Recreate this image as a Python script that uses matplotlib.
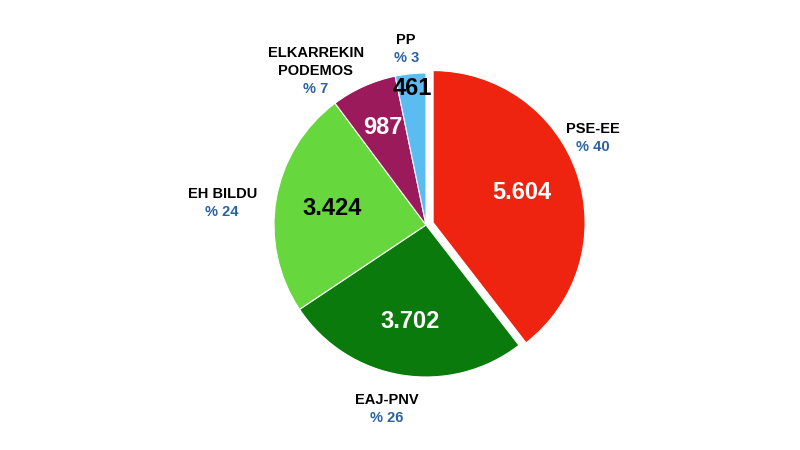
import numpy as np
import matplotlib.pyplot as plt

plt.rcParams['font.family'] = ['Liberation Sans', 'DejaVu Sans']

# votos por partido
partidos = ['PSE-EE', 'EAJ-PNV', 'EH BILDU', 'ELKARREKIN\nPODEMOS', 'PP']
votos = [5604, 3702, 3424, 987, 461]
porcentajes = [40, 26, 24, 7, 3]
etiquetas_votos = ['5.604', '3.702', '3.424', '987', '461']
colores = ['#ee2410', '#0b7a0c', '#66d83e', '#9b1a5c', '#5bbcf2']
color_texto_voto = ['white', 'white', 'black', 'white', 'black']
# distancia radial de los textos (fraccion del radio)
dist_voto = [0.62, 0.64, 0.63, 0.70, 0.90]
dist_nombre = [1.245, 1.225, 1.35, 1.253, 1.175]
ajuste_angulo = [9.2, -2.8, 3.1, 11.1, 0.5]

fig = plt.figure(figsize=(8, 4.5), dpi=100)
ax = fig.add_axes([0, 0, 1, 1])

cx, cy, r = 426, 225, 152
wedges, _ = ax.pie(votos, colors=colores, startangle=90, counterclock=False,
                   center=(cx, cy), radius=r, explode=[7.5, 0, 0, 0, 0],
                   wedgeprops=dict(edgecolor='white', linewidth=0.8))
# pie cambia los limites, se ponen despues
ax.set_xlim(0, 800)
ax.set_ylim(0, 450)
ax.set_aspect('equal')
ax.axis('off')

paso = 18  # separacion entre lineas

for i, w in enumerate(wedges):
    ang = (w.theta1 + w.theta2) / 2
    wx, wy = w.center
    # numero de votos dentro del sector
    x = wx + dist_voto[i] * r * np.cos(np.radians(ang))
    y = wy + dist_voto[i] * r * np.sin(np.radians(ang))
    ax.text(x, y, etiquetas_votos[i], ha='center', va='center', fontsize=17,
            fontweight='bold', color=color_texto_voto[i])
    # nombre y porcentaje fuera
    a2 = np.radians(ang + ajuste_angulo[i])
    x = cx + dist_nombre[i] * r * np.cos(a2)
    y = cy + dist_nombre[i] * r * np.sin(a2)
    lineas = partidos[i].split('\n') + ['% ' + str(porcentajes[i])]
    n = len(lineas)
    for k, linea in enumerate(lineas):
        yk = y + ((n - 1) / 2 - k) * paso
        color = '#2a62a0' if k == n - 1 else 'black'
        ax.text(x, yk, linea, ha='center', va='center_baseline', fontsize=10.5,
                fontweight='bold', color=color)

fig.savefig('out.png', dpi=100)
